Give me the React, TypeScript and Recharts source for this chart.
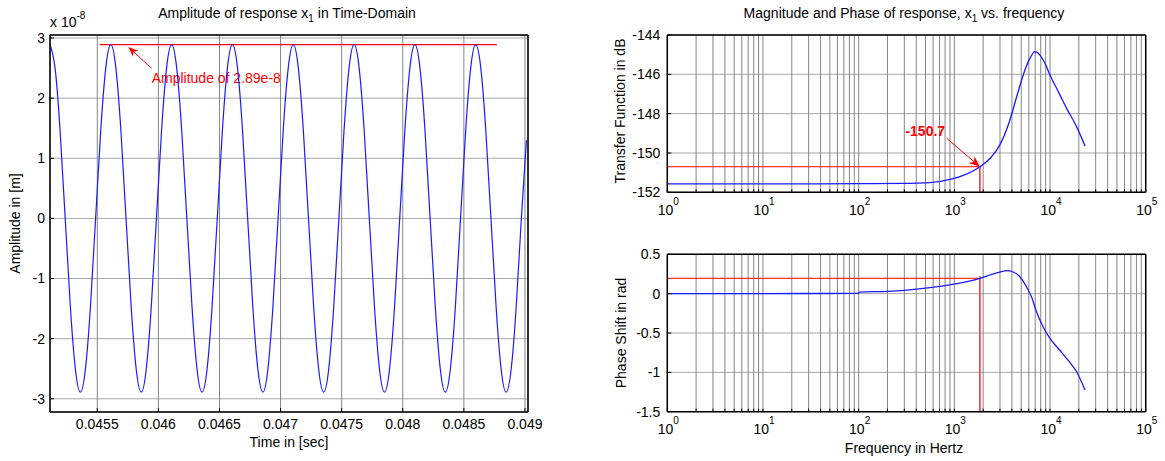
import { CartesianGrid, Line, LineChart, ReferenceLine, XAxis, YAxis } from 'recharts';

const FONT = '"Liberation Sans", Arial, Helvetica, sans-serif';

// x1(t) in units of 1e-8 m, one sample every sampleStep seconds from sampleStart
const sampleStart = 0.045113;
const sampleStep = 4.148e-5;
const x1Samples = [
    2.89, 2.5, 1.445, 0, -1.445, -2.5, -2.89, -2.5, -1.445, 0, 1.445, 2.5,
    2.89, 2.5, 1.445, 0, -1.445, -2.5, -2.89, -2.5, -1.445, 0, 1.445, 2.5,
    2.89, 2.5, 1.445, 0, -1.445, -2.5, -2.89, -2.5, -1.445, 0, 1.445, 2.5,
    2.89, 2.5, 1.445, 0, -1.445, -2.5, -2.89, -2.5, -1.445, 0, 1.445, 2.5,
    2.89, 2.5, 1.445, 0, -1.445, -2.5, -2.89, -2.5, -1.445, 0, 1.445, 2.5,
    2.89, 2.5, 1.445, 0, -1.445, -2.5, -2.89, -2.5, -1.445, 0, 1.445, 2.5,
    2.89, 2.5, 1.445, 0, -1.445, -2.5, -2.89, -2.5, -1.445, 0, 1.445, 2.5,
    2.89, 2.5, 1.445, 0, -1.445, -2.5, -2.89, -2.5, -1.445, 0, 1.3,
];
const timeDomain = [0.045113, 0.049025];
const timeTicks = [0.0455, 0.046, 0.0465, 0.047, 0.0475, 0.048, 0.0485, 0.049];
const ampTicks = [-3, -2, -1, 0, 1, 2, 3];
const amplitude = 2.89;
const amplitudeFrom = 0.04552;
const amplitudeTo = 0.04877;

// frequency response of x1
const freqTicks = [
    1, 2, 3, 4, 5, 6, 7, 8, 9,
    10, 20, 30, 40, 50, 60, 70, 80, 90,
    100, 200, 300, 400, 500, 600, 700, 800, 900,
    1000, 2000, 3000, 4000, 5000, 6000, 7000, 8000, 9000,
    10000, 20000, 30000, 40000, 50000, 60000, 70000, 80000, 90000,
    100000,
];
const decadeExp: Record<number, string> = { 1: '0', 10: '1', 100: '2', 1000: '3', 10000: '4', 100000: '5' };

const magFreq = [1, 10, 100, 300, 556, 951, 1240, 1850, 2450, 2990, 3810, 4480, 5470, 6170, 6950, 7850, 8850, 9980, 12200, 14900, 18950, 23200];
const magDb = [-151.57, -151.57, -151.56, -151.55, -151.51, -151.32, -151.14, -150.7, -150.19, -149.59, -148.32, -147.14, -145.78, -145.19, -144.85, -145.02, -145.44, -146.03, -146.88, -147.73, -148.66, -149.64];
const dbTicks = [-152, -150, -148, -146, -144];

const phaseFreq = [1, 10, 98, 102, 200, 300, 556, 951, 1240, 1850, 2360, 2990, 3500, 4130, 4840, 5670, 6400, 7220, 8460, 9980, 12600, 15900, 18950, 23200];
const phaseRad = [0.0, 0.001, 0.003, 0.02, 0.03, 0.042, 0.076, 0.118, 0.144, 0.195, 0.237, 0.275, 0.292, 0.275, 0.215, 0.088, -0.039, -0.229, -0.42, -0.568, -0.716, -0.865, -0.992, -1.224];
const radTicks = [-1.5, -1, -0.5, 0, 0.5];

// operating point marked on both frequency plots
const driveFreq = 1850;
const driveDb = -150.7;
const drivePhase = 0.195;
const phaseCursorTop = 0.22;

const tickText = { fontSize: 14, fill: '#000', fontFamily: FONT };
const tickLine = { stroke: '#000', strokeWidth: 1 };
const boxLine = { stroke: '#000', strokeWidth: 1.5 };
const gridLight = '#a8a8a8';
const gridDark = '#858585';
const curveBlue = '#1a1aff';

function Arrow({ x1, y1, x2, y2, head = 10, half = 4, text, textX = 0, textY = 0, anchor = 'start', bold = false }: any) {
    const dx = x2 - x1;
    const dy = y2 - y1;
    const len = Math.hypot(dx, dy) || 1;
    const ux = dx / len;
    const uy = dy / len;
    const bx = x2 - ux * head;
    const by = y2 - uy * head;
    const nx = x2 - ux * head * 0.7;
    const ny = y2 - uy * head * 0.7;
    const pts = `${x2},${y2} ${bx - uy * half},${by + ux * half} ${nx},${ny} ${bx + uy * half},${by - ux * half}`;
    return (
        <g>
            <line x1={x1} y1={y1} x2={nx} y2={ny} stroke="#ff0000" strokeWidth={1} />
            <polygon points={pts} fill="#ff0000" />
            <text
                x={x1 + textX}
                y={y1 + textY}
                textAnchor={anchor}
                fontSize={14}
                fontWeight={bold ? 'bold' : 'normal'}
                fill="#ff0000"
                fontFamily={FONT}
            >
                {text}
            </text>
        </g>
    );
}

function DecadeTick({ x, y, payload }: any) {
    const exp = decadeExp[payload.value];
    if (exp === undefined) return null;
    return (
        <text x={x + 1} y={y + 22.5} textAnchor="middle" fontSize={14} fill="#000" fontFamily={FONT}>
            10
            <tspan dy={-10} fontSize={10}>
                {exp}
            </tspan>
        </text>
    );
}

export default function App() {
    const timeData = x1Samples.map((x, i) => ({ t: sampleStart + i * sampleStep, x }));
    const magData = magFreq.map((f, i) => ({ f, db: magDb[i] }));
    const phaseData = phaseFreq.map((f, i) => ({ f, rad: phaseRad[i] }));

    // bottom axis with decade labels, top axis only carries the box ticks
    const logX = (id?: string) =>
        id ? (
            <XAxis
                xAxisId={id}
                orientation="top"
                dataKey="f"
                type="number"
                scale="log"
                domain={[1, 100000]}
                allowDataOverflow
                ticks={freqTicks}
                interval={0}
                height={1}
                tick={false}
                tickSize={-3}
                tickLine={tickLine}
                axisLine={boxLine}
            />
        ) : (
            <XAxis
                dataKey="f"
                type="number"
                scale="log"
                domain={[1, 100000]}
                allowDataOverflow
                ticks={freqTicks}
                interval={0}
                height={30}
                tick={<DecadeTick />}
                tickSize={-3}
                tickMargin={3}
                tickLine={tickLine}
                axisLine={boxLine}
            />
        );

    return (
        <div style={{ position: 'absolute', left: 0, top: 0, width: 1165, height: 461, background: '#fff', fontFamily: FONT }}>
            {/* time domain response */}
            <div style={{ position: 'absolute', left: 0, top: 0 }}>
                <LineChart width={560} height={461} data={timeData} margin={{ top: 34, right: 31, bottom: 19, left: 0 }}>
                    <CartesianGrid vertical={false} stroke={gridLight} />
                    <CartesianGrid horizontal={false} stroke={gridDark} />
                    <XAxis
                        dataKey="t"
                        type="number"
                        domain={timeDomain}
                        allowDataOverflow
                        ticks={timeTicks}
                        interval={0}
                        tickFormatter={(v) => String(v)}
                        height={30}
                        tick={tickText}
                        tickSize={-4}
                        tickMargin={11}
                        tickLine={tickLine}
                        axisLine={boxLine}
                    />
                    <XAxis
                        xAxisId="top"
                        orientation="top"
                        type="number"
                        domain={timeDomain}
                        allowDataOverflow
                        ticks={timeTicks}
                        interval={0}
                        height={1}
                        tick={false}
                        tickSize={-4}
                        tickLine={tickLine}
                        axisLine={boxLine}
                    />
                    <YAxis
                        type="number"
                        domain={[-3.22, 3.05]}
                        allowDataOverflow
                        ticks={ampTicks}
                        interval={0}
                        width={50}
                        tick={tickText}
                        tickSize={-4}
                        tickMargin={9}
                        tickLine={tickLine}
                        axisLine={boxLine}
                    />
                    <YAxis
                        yAxisId="right"
                        orientation="right"
                        type="number"
                        domain={[-3.22, 3.05]}
                        allowDataOverflow
                        ticks={ampTicks}
                        interval={0}
                        width={1}
                        tick={false}
                        tickSize={-4}
                        tickLine={tickLine}
                        axisLine={boxLine}
                    />
                    <ReferenceLine
                        segment={[
                            { x: amplitudeFrom, y: amplitude },
                            { x: amplitudeTo, y: amplitude },
                        ]}
                        stroke="#ff0000"
                        strokeWidth={1.3}
                    />
                    <ReferenceLine
                        segment={[
                            { x: 0.045945, y: 2.495 },
                            { x: 0.045754, y: 2.85 },
                        ]}
                        shape={(p: any) => (
                            <Arrow {...p} head={10} half={4} text={`Amplitude of ${amplitude}e-8`} textX={0} textY={14.7} />
                        )}
                    />
                    <Line type="natural" dataKey="x" stroke={curveBlue} strokeWidth={1.2} dot={false} isAnimationActive={false} />
                </LineChart>
            </div>

            {/* magnitude */}
            <div style={{ position: 'absolute', left: 580, top: 0 }}>
                <LineChart width={585} height={230} data={magData} margin={{ top: 34, right: 18.3, bottom: 7.7, left: 0.3 }}>
                    <CartesianGrid vertical={false} stroke={gridLight} />
                    <CartesianGrid horizontal={false} stroke={gridDark} />
                    {logX()}
                    {logX('top')}
                    <YAxis
                        type="number"
                        domain={[-152, -144]}
                        allowDataOverflow
                        ticks={dbTicks}
                        interval={0}
                        width={87}
                        tick={tickText}
                        tickSize={-4}
                        tickMargin={11}
                        tickLine={tickLine}
                        axisLine={boxLine}
                    />
                    <YAxis
                        yAxisId="right"
                        orientation="right"
                        type="number"
                        domain={[-152, -144]}
                        allowDataOverflow
                        ticks={dbTicks}
                        interval={0}
                        width={1}
                        tick={false}
                        tickSize={-4}
                        tickLine={tickLine}
                        axisLine={boxLine}
                    />
                    <ReferenceLine
                        segment={[
                            { x: 1, y: driveDb },
                            { x: driveFreq, y: driveDb },
                        ]}
                        stroke="#ff0000"
                    />
                    <ReferenceLine
                        segment={[
                            { x: driveFreq, y: -152 },
                            { x: driveFreq, y: driveDb },
                        ]}
                        stroke="#e83a3a"
                        strokeWidth={1.6}
                    />
                    <ReferenceLine
                        segment={[
                            { x: 830, y: -149.25 },
                            { x: driveFreq, y: driveDb },
                        ]}
                        shape={(p: any) => (
                            <Arrow {...p} head={11} half={4.5} text={driveDb.toFixed(1)} textX={-1.5} textY={-2.3} anchor="end" bold />
                        )}
                    />
                    <Line type="monotone" dataKey="db" stroke={curveBlue} strokeWidth={1.3} dot={false} isAnimationActive={false} />
                </LineChart>
            </div>

            {/* phase */}
            <div style={{ position: 'absolute', left: 580, top: 230 }}>
                <LineChart width={585} height={231} data={phaseData} margin={{ top: 23.3, right: 18.3, bottom: 19.3, left: 0.3 }}>
                    <CartesianGrid vertical={false} stroke={gridLight} />
                    <CartesianGrid horizontal={false} stroke={gridDark} />
                    {logX()}
                    {logX('top')}
                    <YAxis
                        type="number"
                        domain={[-1.5, 0.5]}
                        allowDataOverflow
                        ticks={radTicks}
                        interval={0}
                        width={87}
                        tick={tickText}
                        tickSize={-4}
                        tickMargin={11}
                        tickLine={tickLine}
                        axisLine={boxLine}
                    />
                    <YAxis
                        yAxisId="right"
                        orientation="right"
                        type="number"
                        domain={[-1.5, 0.5]}
                        allowDataOverflow
                        ticks={radTicks}
                        interval={0}
                        width={1}
                        tick={false}
                        tickSize={-4}
                        tickLine={tickLine}
                        axisLine={boxLine}
                    />
                    <ReferenceLine
                        segment={[
                            { x: 1, y: drivePhase },
                            { x: driveFreq, y: drivePhase },
                        ]}
                        stroke="#ff0000"
                    />
                    <ReferenceLine
                        segment={[
                            { x: driveFreq, y: -1.5 },
                            { x: driveFreq, y: phaseCursorTop },
                        ]}
                        stroke="#e83a3a"
                        strokeWidth={1.6}
                    />
                    <Line type="monotone" dataKey="rad" stroke={curveBlue} strokeWidth={1.3} dot={false} isAnimationActive={false} />
                </LineChart>
            </div>

            {/* titles and axis labels */}
            <svg width={1165} height={461} style={{ position: 'absolute', left: 0, top: 0, pointerEvents: 'none' }} fontFamily={FONT} fontSize={14} fill="#000">
                <text x={287} y={17.5} textAnchor="middle">
                    Amplitude of response x<tspan dy={4} fontSize={10}>1</tspan>
                    <tspan dy={-4}> in Time-Domain</tspan>
                </text>
                <text x={904} y={17.5} textAnchor="middle">
                    Magnitude and Phase of response, x<tspan dy={4} fontSize={10}>1</tspan>
                    <tspan dy={-4}> vs. frequency</tspan>
                </text>
                <text x={50} y={27}>
                    x 10<tspan dy={-8} fontSize={10}>-8</tspan>
                </text>
                <text transform="translate(20,223.5) rotate(-90)" textAnchor="middle">
                    Amplitude in [m]
                </text>
                <text x={289} y={447} textAnchor="middle">
                    Time in [sec]
                </text>
                <text transform="translate(624.5,111) rotate(-90)" textAnchor="middle">
                    Transfer Function in dB
                </text>
                <text transform="translate(626,333) rotate(-90)" textAnchor="middle">
                    Phase Shift in rad
                </text>
                <text x={904} y={453} textAnchor="middle">
                    Frequency in Hertz
                </text>
            </svg>
        </div>
    );
}
